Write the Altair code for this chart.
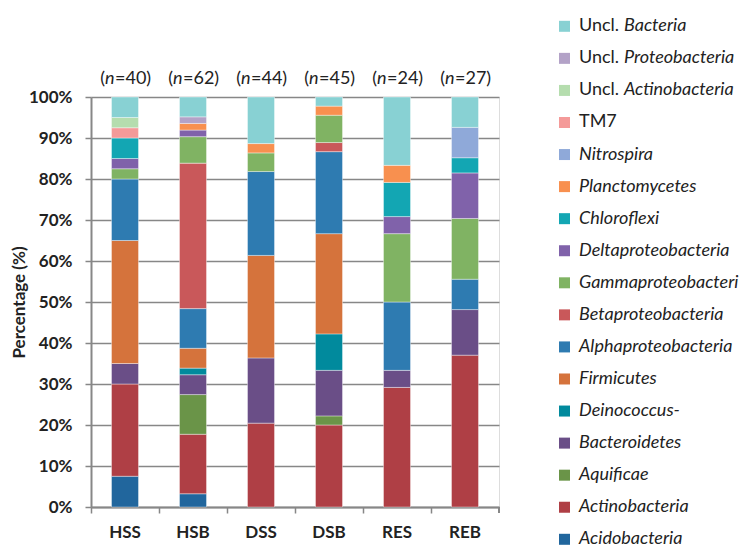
import altair as alt
import pandas as pd

FONT = "Lato"
TXT = "#222222"
AX = "#878787"

groups = ["HSS", "HSB", "DSS", "DSB", "RES", "REB"]
n_values = [40, 62, 44, 45, 24, 27]

# taxa from bottom of the stack to the top
taxa = [
    "Acidobacteria", "Actinobacteria", "Aquificae", "Bacteroidetes",
    "Deinococcus-", "Firmicutes", "Alphaproteobacteria", "Betaproteobacteria",
    "Gammaproteobacteria", "Deltaproteobacteria", "Chloroflexi",
    "Planctomycetes", "Nitrospira", "TM7", "Uncl. Actinobacteria",
    "Uncl. Proteobacteria", "Uncl. Bacteria",
]
label_plain = ["", "", "", "", "", "", "", "", "", "", "", "", "", "TM7",
               "Uncl.", "Uncl.", "Uncl."]
label_italic = ["Acidobacteria", "Actinobacteria", "Aquificae", "Bacteroidetes",
                "Deinococcus-", "Firmicutes", "Alphaproteobacteria",
                "Betaproteobacteria", "Gammaproteobacteria",
                "Deltaproteobacteria", "Chloroflexi", "Planctomycetes",
                "Nitrospira", "", "Actinobacteria", "Proteobacteria", "Bacteria"]
colors = [
    "#21669d", "#af3f45", "#6a9448", "#6a4e87",
    "#018a9d", "#d5733c", "#2e7bb1", "#c9585a",
    "#80b363", "#8062aa", "#13a6b3",
    "#f8904f", "#8fa9d9", "#f49a99", "#b5ddae",
    "#b3a2c7", "#88d1d3",
]

# number of clones per taxon in each sample (HSS, HSB, DSS, DSB, RES, REB)
counts = {
    "Acidobacteria":        [3, 2, 0, 0, 0, 0],
    "Actinobacteria":       [9, 9, 9, 9, 7, 10],
    "Aquificae":            [0, 6, 0, 1, 0, 0],
    "Bacteroidetes":        [2, 3, 7, 5, 1, 3],
    "Deinococcus-":         [0, 1, 0, 4, 0, 0],
    "Firmicutes":           [12, 3, 11, 11, 0, 0],
    "Alphaproteobacteria":  [6, 6, 9, 9, 4, 2],
    "Betaproteobacteria":   [0, 22, 0, 1, 0, 0],
    "Gammaproteobacteria":  [1, 4, 2, 3, 4, 4],
    "Deltaproteobacteria":  [1, 1, 0, 0, 1, 3],
    "Chloroflexi":          [2, 0, 0, 0, 2, 1],
    "Planctomycetes":       [0, 1, 1, 1, 1, 0],
    "Nitrospira":           [0, 0, 0, 0, 0, 2],
    "TM7":                  [1, 0, 0, 0, 0, 0],
    "Uncl. Actinobacteria": [1, 0, 0, 0, 0, 0],
    "Uncl. Proteobacteria": [0, 1, 0, 0, 0, 0],
    "Uncl. Bacteria":       [2, 3, 5, 1, 4, 2],
}

rows = []
for i, t in enumerate(taxa):
    for g, n, c in zip(groups, n_values, counts[t]):
        if c > 0:
            rows.append({"taxon": t, "group": g, "order": i, "pct": c / n * 100})
bars_df = pd.DataFrame(rows)

n_df = pd.DataFrame({"group": groups, "rest": ["=%d)" % n for n in n_values]})

k = len(taxa)
leg_df = pd.DataFrame({
    "taxon": taxa[::-1],
    "row": list(range(k)),
    "plain": label_plain[::-1],
    "ital": label_italic[::-1],
})

color_scale = alt.Scale(domain=taxa, range=colors)
xscale = alt.Scale(domain=groups, paddingInner=0, paddingOuter=0)

bars = alt.Chart(bars_df).mark_bar(
    size=27, stroke="white", strokeWidth=0.7, strokeOpacity=0.55
).encode(
    x=alt.X("group:N", sort=groups, scale=xscale,
            axis=alt.Axis(title=None, bandPosition=0, labelAngle=0,
                          labelFont=FONT, labelFontSize=17, labelFontWeight="bold",
                          labelColor=TXT, labelPadding=11, tickSize=6,
                          tickColor=AX, tickWidth=1.5, domainColor=AX,
                          domainWidth=2, grid=False)),
    y=alt.Y("pct:Q", stack="zero",
            scale=alt.Scale(domain=[0, 100], nice=False, clamp=True),
            axis=alt.Axis(values=list(range(0, 101, 10)),
                          labelExpr="datum.value + '%'",
                          title="Percentage (%)", titleFont=FONT,
                          titleFontSize=17, titleFontWeight="bold",
                          titleColor=TXT, titlePadding=0,
                          labelFont=FONT, labelFontSize=17,
                          labelFontWeight="bold", labelColor=TXT,
                          labelPadding=13, tickSize=6, tickColor=AX,
                          tickWidth=1.5, domainColor=AX, domainWidth=2,
                          grid=True, gridColor=AX, gridWidth=1.5)),
    color=alt.Color("taxon:N", scale=color_scale, legend=None),
    order=alt.Order("order:Q", sort="ascending"),
)

end_tick = alt.Chart(n_df).mark_rule(color=AX, strokeWidth=1.5).encode(
    x=alt.value(408), y=alt.value(410), y2=alt.value(416)
)

n_base = alt.Chart(n_df).encode(
    x=alt.X("group:N", sort=groups, scale=xscale), y=alt.value(-18)
)
n_open = n_base.mark_text(font=FONT, fontSize=18, color=TXT, align="right",
                          baseline="middle", dx=-20).encode(text=alt.value("("))
n_n = n_base.mark_text(font=FONT, fontSize=18, color=TXT, align="left",
                       baseline="middle", dx=-20, fontStyle="italic").encode(
    text=alt.value("n"))
n_rest = n_base.mark_text(font=FONT, fontSize=18, color=TXT, align="left",
                          baseline="middle", dx=-10).encode(text="rest:N")

leg_y = alt.Y("row:Q", scale=alt.Scale(domain=[0, k - 1], range=[-70.7, 442.3]),
              axis=None)
leg_base = alt.Chart(leg_df).encode(y=leg_y)
swatch = leg_base.mark_square(size=121, opacity=1).encode(
    x=alt.value(473.5),
    color=alt.Color("taxon:N", scale=color_scale, legend=None),
)
plain_txt = leg_base.mark_text(font=FONT, fontSize=18, color=TXT, align="left",
                               baseline="middle").encode(
    x=alt.value(488), text="plain:N")
ital_uncl = leg_base.transform_filter("datum.plain == 'Uncl.'").mark_text(
    font=FONT, fontSize=18, color=TXT, align="left", baseline="middle",
    fontStyle="italic", limit=124, ellipsis=" ").encode(
    x=alt.value(533), text="ital:N")
ital_main = leg_base.transform_filter("datum.plain == ''").mark_text(
    font=FONT, fontSize=18, color=TXT, align="left", baseline="middle",
    fontStyle="italic", limit=168, ellipsis=" ").encode(
    x=alt.value(488), text="ital:N")

chart = alt.layer(
    bars, end_tick, n_open, n_n, n_rest, swatch, plain_txt, ital_uncl, ital_main
).resolve_scale(y="independent").properties(
    width=408, height=410,
    padding={"left": 2, "top": 9, "right": 0, "bottom": 0},
).configure_view(stroke=None).configure(background="white")

chart.save("out.html", embed_options={"renderer": "svg", "actions": False})
